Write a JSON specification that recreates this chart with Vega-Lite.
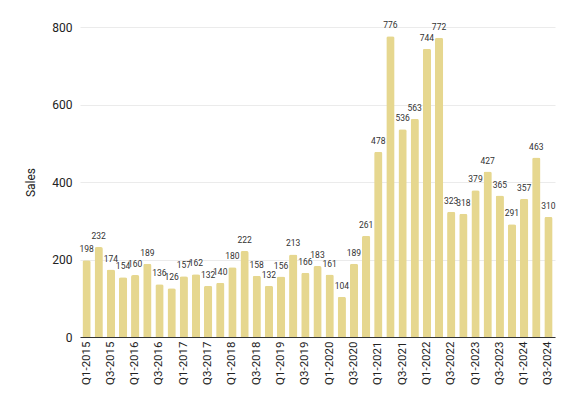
{
  "$schema": "https://vega.github.io/schema/vega-lite/v6.json",
  "width": 475,
  "height": 310,
  "autosize": "none",
  "padding": {"left": 80, "top": 27, "right": 22, "bottom": 75},
  "background": "white",
  "data": {
    "values": [
      {"quarter": "Q1-2015", "sales": 198},
      {"quarter": "Q2-2015", "sales": 232},
      {"quarter": "Q3-2015", "sales": 174},
      {"quarter": "Q4-2015", "sales": 154},
      {"quarter": "Q1-2016", "sales": 160},
      {"quarter": "Q2-2016", "sales": 189},
      {"quarter": "Q3-2016", "sales": 136},
      {"quarter": "Q4-2016", "sales": 126},
      {"quarter": "Q1-2017", "sales": 157},
      {"quarter": "Q2-2017", "sales": 162},
      {"quarter": "Q3-2017", "sales": 132},
      {"quarter": "Q4-2017", "sales": 140},
      {"quarter": "Q1-2018", "sales": 180},
      {"quarter": "Q2-2018", "sales": 222},
      {"quarter": "Q3-2018", "sales": 158},
      {"quarter": "Q4-2018", "sales": 132},
      {"quarter": "Q1-2019", "sales": 156},
      {"quarter": "Q2-2019", "sales": 213},
      {"quarter": "Q3-2019", "sales": 166},
      {"quarter": "Q4-2019", "sales": 183},
      {"quarter": "Q1-2020", "sales": 161},
      {"quarter": "Q2-2020", "sales": 104},
      {"quarter": "Q3-2020", "sales": 189},
      {"quarter": "Q4-2020", "sales": 261},
      {"quarter": "Q1-2021", "sales": 478},
      {"quarter": "Q2-2021", "sales": 776},
      {"quarter": "Q3-2021", "sales": 536},
      {"quarter": "Q4-2021", "sales": 563},
      {"quarter": "Q1-2022", "sales": 744},
      {"quarter": "Q2-2022", "sales": 772},
      {"quarter": "Q3-2022", "sales": 323},
      {"quarter": "Q4-2022", "sales": 318},
      {"quarter": "Q1-2023", "sales": 379},
      {"quarter": "Q2-2023", "sales": 427},
      {"quarter": "Q3-2023", "sales": 365},
      {"quarter": "Q4-2023", "sales": 291},
      {"quarter": "Q1-2024", "sales": 357},
      {"quarter": "Q2-2024", "sales": 463},
      {"quarter": "Q3-2024", "sales": 310}
    ]
  },
  "encoding": {
    "x": {
      "field": "quarter",
      "type": "nominal",
      "sort": null,
      "title": null,
      "scale": {"paddingInner": 0.32, "paddingOuter": 0.2},
      "axis": {
        "labelAngle": -90,
        "labelExpr": "indexof(datum.label, 'Q1') == 0 || indexof(datum.label, 'Q3') == 0 ? datum.label : ''",
        "labelOverlap": false,
        "labelFont": "Roboto",
        "labelFontSize": 11.5,
        "labelColor": "#222222",
        "labelPadding": 4,
        "ticks": false,
        "domainColor": "#333333",
        "domainWidth": 1
      }
    },
    "y": {
      "field": "sales",
      "type": "quantitative",
      "title": "Sales",
      "scale": {"domain": [0, 800], "nice": false},
      "axis": {
        "values": [0, 200, 400, 600, 800],
        "domain": false,
        "ticks": false,
        "labelFont": "Roboto",
        "labelFontSize": 12,
        "labelColor": "#222222",
        "labelPadding": 8,
        "titleFont": "Roboto",
        "titleFontSize": 12,
        "titleFontWeight": "normal",
        "titleColor": "#222222",
        "titlePadding": 14,
        "gridColor": "#ebebeb"
      }
    }
  },
  "layer": [
    {
      "mark": {"type": "bar", "color": "#E6D78F", "cornerRadiusTopLeft": 2, "cornerRadiusTopRight": 2}
    },
    {
      "mark": {"type": "text", "baseline": "bottom", "dy": -6, "font": "Roboto", "fontSize": 8.5, "color": "#333333"},
      "encoding": {"text": {"field": "sales", "type": "quantitative"}}
    }
  ],
  "config": {"view": {"stroke": null}}
}
